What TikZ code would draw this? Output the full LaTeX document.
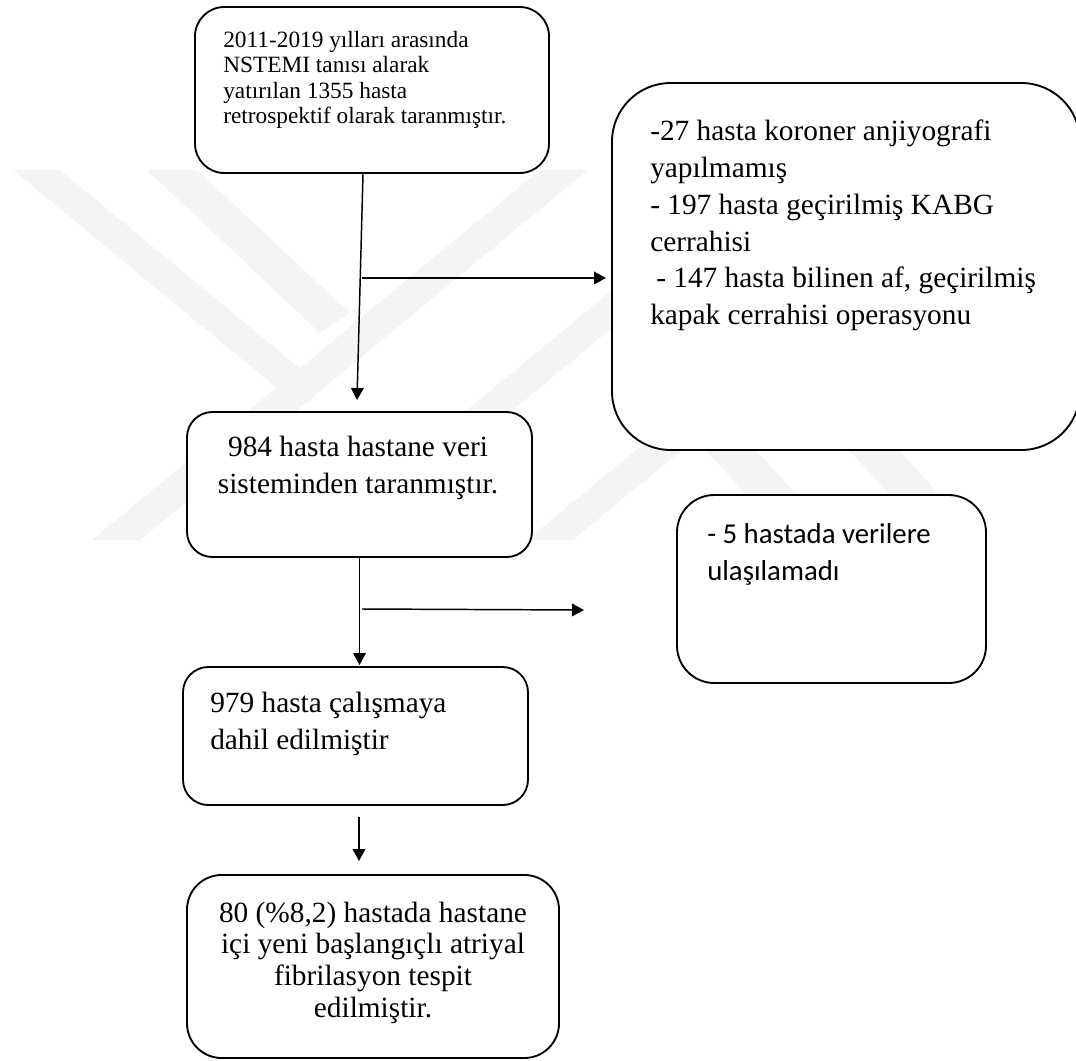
\documentclass[tikz,border=0pt]{standalone}
\usepackage{fontspec}
\setmainfont{Liberation Serif}
\newfontfamily\calib{Carlito}
\usetikzlibrary{arrows.meta}
\definecolor{wm}{gray}{0.955}
\begin{document}
\begin{tikzpicture}[x=0.75pt,y=-0.75pt,
  box/.style={draw=black, fill=white, line width=1.4pt, inner sep=0pt},
  conn/.style={line width=1.1pt, -{Triangle[length=9pt,width=9.5pt]}},
  tl/.style={inner sep=0pt, anchor=base west, font=\fontsize{22}{26}\selectfont},
  tc/.style={inner sep=0pt, anchor=base, font=\fontsize{22}{26}\selectfont},
  ts/.style={inner sep=0pt, anchor=base west, font=\fontsize{17.5}{20}\selectfont},
  tk/.style={inner sep=0pt, anchor=base west, font=\calib\fontsize{21.6}{26}\selectfont}]
\useasboundingbox (0,0) rectangle (1076,1061);
% faint watermark (striped logo)
\fill[wm] (13,170) -- (60,170) -- (299.8,368.2) -- (539.7,170) -- (587.7,170)
  -- (140,540) -- (92,540) -- (276.3,387.6) -- cycle;
\fill[wm] (147,170) -- (197,170) -- (350,313) -- (320,333) -- cycle;
\fill[wm] (757,170) -- (803,170) -- (356,540) -- (310,540) -- cycle;
\fill[wm] (975,170) -- (1021,170) -- (573,540) -- (527,540) -- cycle;
\fill[wm] (697,440) -- (747,440) -- (801,500) -- (751,500) -- cycle;
\fill[wm] (840,440) -- (890,440) -- (944,500) -- (894,500) -- cycle;
% boxes
\node[box, rounded corners=22pt, minimum width=265.5pt, minimum height=124.5pt] (b1) at (372,90) {};
\node[box, rounded corners=44pt, minimum width=351pt, minimum height=275.25pt] (bA) at (846,266.5) {};
\node[box, rounded corners=19pt, minimum width=258.75pt, minimum height=108.75pt] (b2) at (359.5,484.5) {};
\node[box, rounded corners=28pt, minimum width=231.75pt, minimum height=141pt] (b5) at (831.5,589) {};
\node[box, rounded corners=19pt, minimum width=258.75pt, minimum height=103.5pt] (b3) at (355.5,736) {};
\node[box, rounded corners=26pt, minimum width=279pt, minimum height=137.25pt] (b4) at (373,966.5) {};
% texts
\node[ts] (t1a) at (223,47) {2011-2019 yılları arasında};
\node[ts] (t1b) at (223,72.5) {NSTEMI tanısı alarak};
\node[ts] (t1c) at (223,98) {yatırılan 1355 hasta};
\node[ts] (t1d) at (223,123.5) {retrospektif olarak taranmıştır.};
\node[tl] (tAa) at (650,140) {-27 hasta koroner anjiyografi};
\node[tl] (tAb) at (650,177) {yapılmamış};
\node[tl] (tAc) at (650,214) {- 197 hasta geçirilmiş KABG};
\node[tl] (tAd) at (650,251) {cerrahisi};
\node[tl] (tAe) at (656,287.5) {- 147 hasta bilinen af, geçirilmiş};
\node[tl] (tAf) at (650,324) {kapak cerrahisi operasyonu};
\node[tc] (t2a) at (358,456) {984 hasta hastane veri};
\node[tc] (t2b) at (358,493) {sisteminden taranmıştır.};
\node[tk] (t5a) at (707,543) {- 5 hastada verilere};
\node[tk] (t5b) at (707,580) {ulaşılamadı};
\node[tl] (t3a) at (210,712) {979 hasta çalışmaya};
\node[tl] (t3b) at (210,749) {dahil edilmiştir};
\node[tc] (t4a) at (373,922) {80 (\%8,2) hastada hastane};
\node[tc] (t4b) at (373,953) {içi yeni başlangıçlı atriyal};
\node[tc] (t4c) at (373,985) {fibrilasyon tespit};
\node[tc] (t4d) at (373,1017) {edilmiştir.};
% connectors
\coordinate (s1) at (363,174);
\coordinate (e1) at (357,400);
\coordinate (s2) at (362,278);
\coordinate (e2) at (606,278);
\coordinate (e3) at (359.5,665);
\coordinate (s4) at (362,609);
\coordinate (e4) at (584,610);
\coordinate (s5) at (359,817);
\coordinate (e5) at (359,861);
\draw[conn] (s1) -- (e1);
\draw[conn] (s2) -- (e2);
\draw[conn] (b2.south) -- (e3);
\draw[conn] (s4) -- (e4);
\draw[conn] (s5) -- (e5);
\end{tikzpicture}
\end{document}
